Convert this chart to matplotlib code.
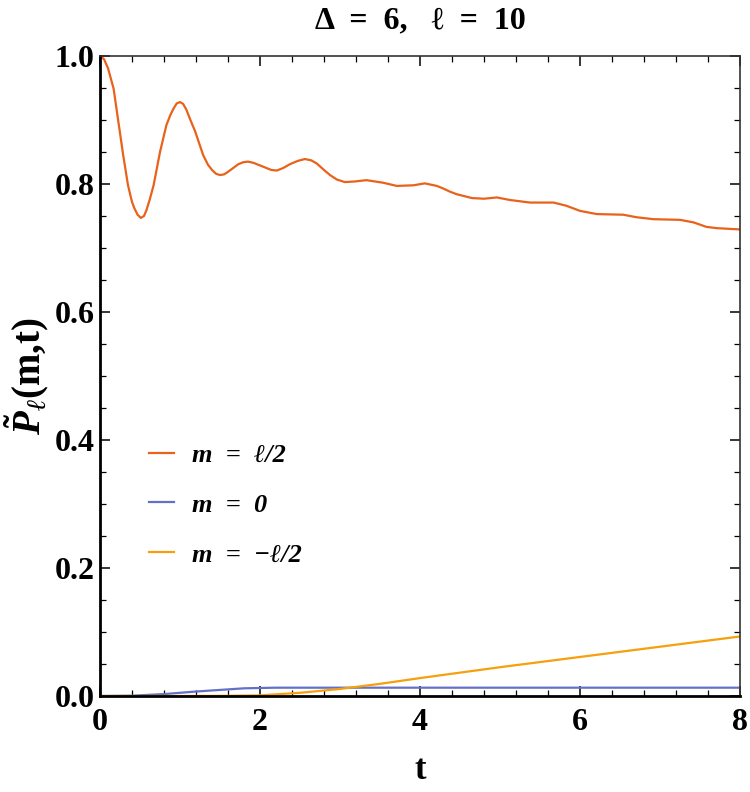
import matplotlib
matplotlib.use('Agg')
import matplotlib.pyplot as plt
from matplotlib.ticker import MultipleLocator

SERIF = ['Liberation Serif', 'DejaVu Serif']
plt.rcParams['font.family'] = SERIF
plt.rcParams['mathtext.fontset'] = 'custom'
plt.rcParams['mathtext.rm'] = 'Liberation Serif:bold'
plt.rcParams['mathtext.bf'] = 'Liberation Serif:bold'
plt.rcParams['mathtext.it'] = 'Liberation Serif:italic:bold'

# values
t_top = [0.0, 0.05, 0.10, 0.17, 0.23, 0.29, 0.35, 0.40, 0.43, 0.47, 0.51, 0.55, 0.58,
         0.62, 0.67, 0.75, 0.83, 0.88, 0.92, 0.96, 1.00, 1.04, 1.08, 1.13, 1.19, 1.29,
         1.35, 1.40, 1.45, 1.50, 1.55, 1.60, 1.73, 1.79, 1.85, 1.92, 1.98, 2.06, 2.14,
         2.21, 2.29, 2.375, 2.47, 2.56, 2.64, 2.71, 2.79, 2.875, 2.96, 3.06, 3.19, 3.33,
         3.54, 3.71, 3.92, 4.06, 4.21, 4.29, 4.375, 4.46, 4.65, 4.80, 4.96, 5.125, 5.375,
         5.67, 5.83, 6.0, 6.21, 6.54, 6.71, 6.92, 7.25, 7.42, 7.58, 7.71, 8.0]
p_top = [1.0, 0.995, 0.981, 0.949, 0.897, 0.845, 0.798, 0.772, 0.762, 0.752, 0.747, 0.750,
         0.759, 0.775, 0.798, 0.850, 0.892, 0.908, 0.918, 0.926, 0.928, 0.925, 0.916, 0.900,
         0.882, 0.845, 0.830, 0.822, 0.816, 0.814, 0.815, 0.819, 0.831, 0.834, 0.835, 0.833,
         0.830, 0.826, 0.822, 0.821, 0.825, 0.831, 0.836, 0.839, 0.837, 0.832, 0.823, 0.814,
         0.807, 0.803, 0.804, 0.806, 0.802, 0.797, 0.798, 0.801, 0.797, 0.793, 0.788, 0.784,
         0.778, 0.777, 0.779, 0.775, 0.771, 0.771, 0.766, 0.758, 0.753, 0.752, 0.748, 0.745,
         0.744, 0.740, 0.733, 0.731, 0.729]

t_mid = [0.0, 0.4, 0.8, 1.0, 1.2, 1.5, 1.8, 2.0, 2.2, 3.0, 4.0, 5.0, 6.0, 7.0, 8.0]
p_mid = [0.0, 0.0005, 0.003, 0.005, 0.007, 0.0095, 0.012, 0.0125, 0.013, 0.013,
         0.013, 0.013, 0.013, 0.013, 0.013]

t_bot = [0.0, 1.0, 1.5, 2.0, 2.5, 3.0, 3.5, 4.0, 5.0, 6.0, 7.0, 8.0]
p_bot = [0.0, 0.0, 0.0002, 0.001, 0.005, 0.011, 0.019, 0.028, 0.045, 0.061, 0.077, 0.093]

labels = ['m  =  ℓ/2', 'm  =  0', 'm  =  −ℓ/2']
colors = ['#E8621A', '#6470C8', '#F5A00C']

fig = plt.figure(figsize=(7.5, 7.92), dpi=100)
ax = fig.add_axes([100 / 750, 1 - 696 / 792, 640 / 750, 640 / 792])

ax.plot(t_top, p_top, color=colors[0], lw=1.6, label=labels[0], solid_joinstyle='round')
ax.plot(t_mid, p_mid, color=colors[1], lw=1.6, label=labels[1], solid_joinstyle='round')
ax.plot(t_bot, p_bot, color=colors[2], lw=1.6, label=labels[2], solid_joinstyle='round')

ax.set_xlim(0, 8)
ax.set_ylim(0, 1.0)
ax.xaxis.set_major_locator(MultipleLocator(2))
ax.xaxis.set_minor_locator(MultipleLocator(0.4))
ax.yaxis.set_major_locator(MultipleLocator(0.2))
ax.yaxis.set_minor_locator(MultipleLocator(0.05))
ax.yaxis.set_major_formatter(plt.FuncFormatter(lambda v, p: f'{v:.1f}'))

ax.tick_params(which='both', direction='in', top=True, right=True)
ax.tick_params(which='major', length=7, width=1.1, labelsize=23)
ax.tick_params(axis='x', which='major', pad=9)
ax.tick_params(axis='y', which='major', pad=4)
ax.tick_params(which='minor', length=4, width=0.9)
for lab in ax.get_xticklabels() + ax.get_yticklabels():
    lab.set_fontweight('bold')

for s in ['left', 'bottom']:
    ax.spines[s].set_linewidth(2)
for s in ['top', 'right']:
    ax.spines[s].set_linewidth(1.2)
    ax.spines[s].set_color('#333333')

ax.set_xlabel('t', fontsize=25, fontweight='bold', labelpad=12)
ax.set_ylabel(r'$\tilde{P}_{\ell}$(m,t)', fontsize=28, fontweight='bold', labelpad=2)
ax.set_title('Δ  =  6,   ℓ  =  10', fontsize=23, fontweight='bold', pad=20)

leg = ax.legend(loc='upper left', bbox_to_anchor=(0.04, 0.432), frameon=False,
                handlelength=0.95, handletextpad=0.65, labelspacing=1.0,
                prop={'family': SERIF, 'weight': 'bold', 'style': 'italic', 'size': 19})

fig.savefig('out.png', dpi=100)
